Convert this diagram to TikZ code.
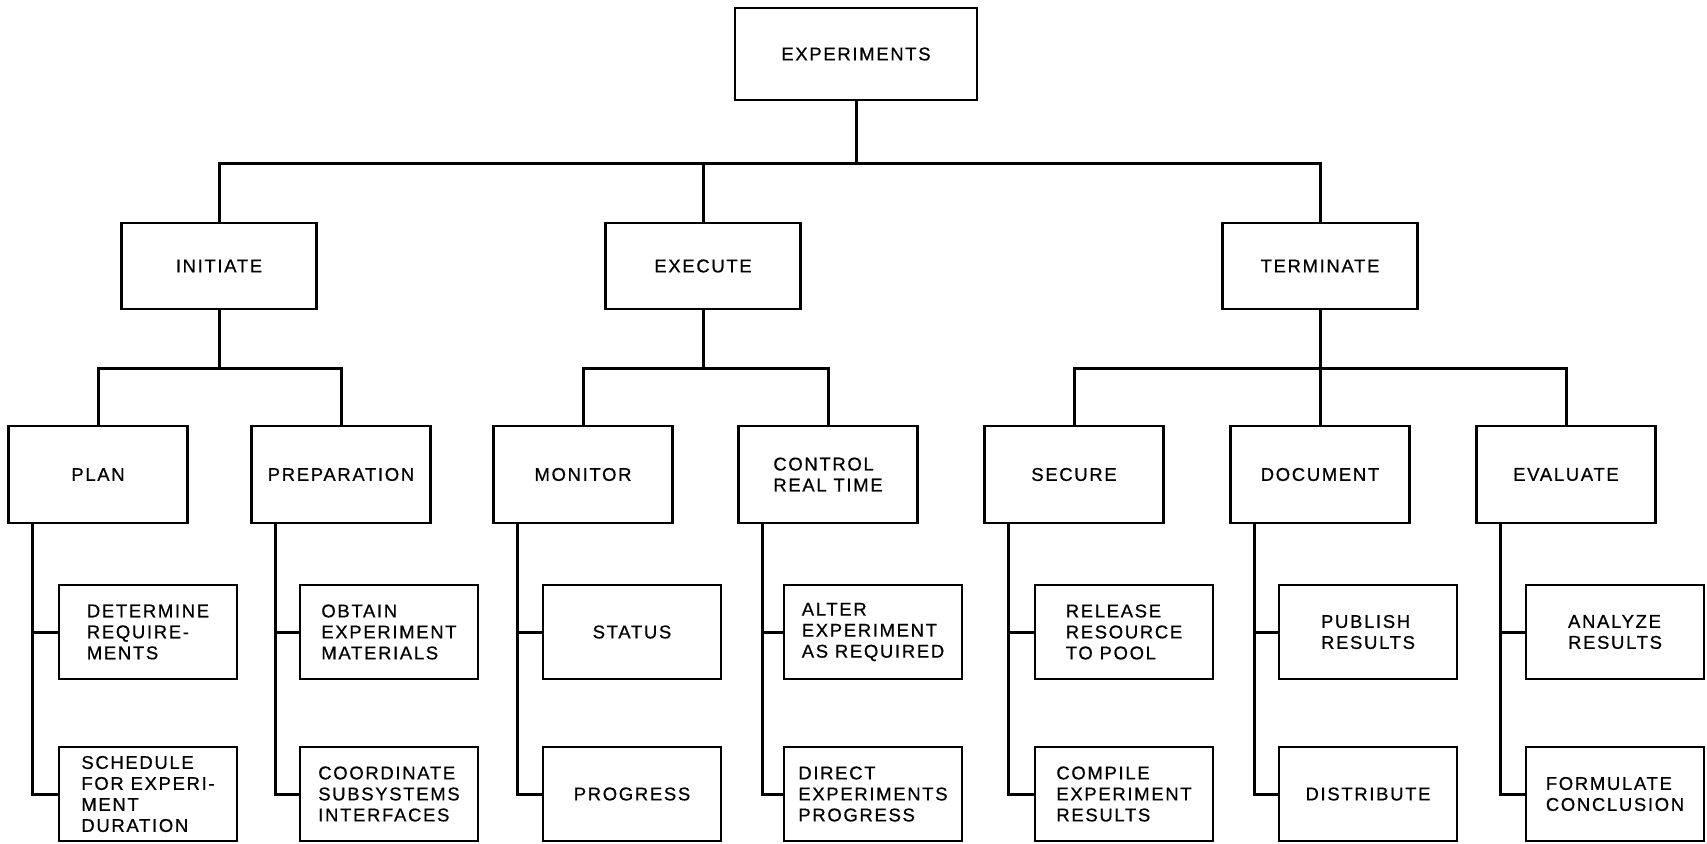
\documentclass[tikz,border=0pt]{standalone}
\usepackage{fontspec}
\newfontfamily\lblfont[LetterSpace=9,FakeBold=0.6]{Liberation Sans}
\newcommand{\lblstyle}{\lblfont\fontsize{18.5}{21}\selectfont}
\begin{document}
\begin{tikzpicture}[x=1pt,y=-1pt,
  basebox/.style={draw, line width=2.4pt, inner sep=0pt, align=left, font=\lblstyle},
  topbox/.style={basebox, minimum width=242pt, minimum height=92pt},
  midbox/.style={basebox, minimum width=195pt, minimum height=86pt},
  lthree/.style={basebox, minimum width=179pt, minimum height=97pt},
  lfour/.style={basebox, minimum width=178pt, minimum height=94pt},
  conn/.style={line width=3pt}]
\fill[white] (0,0) rectangle (1707,843);
\useasboundingbox (0,0) rectangle (1707,843);

% level 1 and 2
\node[topbox] (exp) at (856,54) {EXPERIMENTS};
\node[midbox] (ini) at (219,266) {INITIATE};
\node[midbox] (exe) at (703,266) {EXECUTE};
\node[midbox] (ter) at (1320,266) {TERMINATE};

% level 3
\node[lthree] (plan) at (98,474.5) {PLAN};
\node[lthree] (prep) at (341,474.5) {PREPARATION};
\node[lthree] (mon) at (583,474.5) {MONITOR};
\node[lthree] (ctl) at (828,474.5) {CONTROL\\REAL TIME};
\node[lthree] (sec) at (1074,474.5) {SECURE};
\node[lthree] (doc) at (1320,474.5) {DOCUMENT};
\node[lthree] (eva) at (1566,474.5) {EVALUATE};

% level 4 upper
\node[lfour] (det) at (148,632) {DETERMINE\\REQUIRE-\\MENTS};
\node[lfour] (obt) at (389,632) {OBTAIN\\EXPERIMENT\\MATERIALS};
\node[lfour] (sta) at (632,632) {STATUS};
\node[lfour] (alt) at (873,632) {ALTER\\EXPERIMENT\\AS REQUIRED};
\node[lfour] (rel) at (1124,632) {RELEASE\\RESOURCE\\TO POOL};
\node[lfour] (pub) at (1368,632) {PUBLISH\\RESULTS};
\node[lfour] (ana) at (1615,632) {ANALYZE\\RESULTS};

% level 4 lower
\node[lfour] (sch) at (148,794) {SCHEDULE\\FOR EXPERI-\\MENT\\DURATION};
\node[lfour] (coo) at (389,794) {COORDINATE\\SUBSYSTEMS\\INTERFACES};
\node[lfour] (pro) at (632,794) {PROGRESS};
\node[lfour] (dir) at (873,794) {DIRECT\\EXPERIMENTS\\PROGRESS};
\node[lfour] (com) at (1124,794) {COMPILE\\EXPERIMENT\\RESULTS};
\node[lfour] (dis) at (1368,794) {DISTRIBUTE};
\node[lfour] (for) at (1615,794) {FORMULATE\\CONCLUSION};

% connectors level 1 -> 2
\coordinate (busa) at (0,163);
\draw[conn] (exp.south) -- (exp.south |- busa);
\draw[conn] (ini.north) |- (ter.north |- busa) -- (ter.north);
\draw[conn] (exe.north) -- (exe.north |- busa);

% connectors level 2 -> 3
\coordinate (busb) at (0,368);
\draw[conn] (ini.south) -- (ini.south |- busb);
\draw[conn] (plan.north) |- (prep.north |- busb) -- (prep.north);
\draw[conn] (exe.south) -- (exe.south |- busb);
\draw[conn] (mon.north) |- (ctl.north |- busb) -- (ctl.north);
\draw[conn] (ter.south) -- (ter.south |- busb);
\draw[conn] (sec.north) |- (eva.north |- busb) -- (eva.north);
\draw[conn] (doc.north) -- (doc.north |- busb);

% connectors level 3 -> 4
\foreach \p/\a/\b in {plan/det/sch, prep/obt/coo, mon/sta/pro, ctl/alt/dir, sec/rel/com, doc/pub/dis, eva/ana/for}{
  \coordinate (v-\p) at ([xshift=25pt]\p.south west);
  \draw[conn] (v-\p) |- (\b.west);
  \draw[conn] (v-\p |- \a.west) -- (\a.west);
}
\end{tikzpicture}
\end{document}
